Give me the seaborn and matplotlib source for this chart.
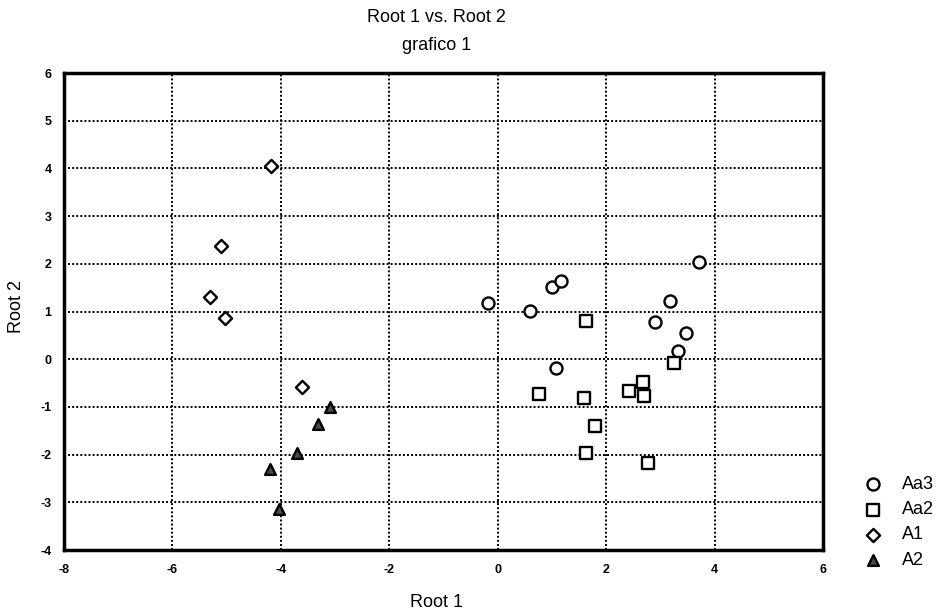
import pandas as pd
import seaborn as sns
import matplotlib.pyplot as plt

# Root scores
aa3_x = [-0.18, 0.59, 1.01, 1.16, 1.07, 3.71, 3.18, 2.91, 3.48, 3.33]
aa3_y = [1.18, 1.02, 1.52, 1.64, -0.19, 2.03, 1.23, 0.79, 0.54, 0.18]

aa2_x = [1.63, 3.26, 0.76, 1.60, 2.42, 2.68, 2.69, 1.80, 1.63, 2.78]
aa2_y = [0.80, -0.07, -0.73, -0.82, -0.66, -0.48, -0.77, -1.41, -1.97, -2.17]

a1_x = [-4.18, -5.10, -5.30, -5.03, -3.61]
a1_y = [4.05, 2.37, 1.30, 0.86, -0.58]

a2_x = [-3.10, -3.31, -3.70, -4.20, -4.04]
a2_y = [-1.01, -1.36, -1.97, -2.30, -3.13]

groups = ["Aa3", "Aa2", "A1", "A2"]
x_ticks = [-8, -6, -4, -2, 0, 2, 4, 6]
y_ticks = [-4, -3, -2, -1, 0, 1, 2, 3, 4, 5, 6]

df = pd.concat([
    pd.DataFrame({"root1": aa3_x, "root2": aa3_y, "group": "Aa3"}),
    pd.DataFrame({"root1": aa2_x, "root2": aa2_y, "group": "Aa2"}),
    pd.DataFrame({"root1": a1_x, "root2": a1_y, "group": "A1"}),
    pd.DataFrame({"root1": a2_x, "root2": a2_y, "group": "A2"}),
])

sns.set_style("white")
plt.rcParams["font.family"] = ["Liberation Sans", "DejaVu Sans"]
plt.rcParams["axes.unicode_minus"] = False
plt.rcParams["text.color"] = "black"
plt.rcParams["axes.labelcolor"] = "black"
plt.rcParams["xtick.color"] = "black"
plt.rcParams["ytick.color"] = "black"

fig = plt.figure(figsize=(9.4, 6.11), dpi=100)
ax = fig.add_axes([0.068, 0.0998, 0.8075, 0.7807])

styles = {
    "Aa3": dict(marker="o", s=75, facecolor="white"),
    "Aa2": dict(marker="s", s=72, facecolor="white"),
    "A1": dict(marker="D", s=45, facecolor="white"),
    "A2": dict(marker="^", s=60, facecolor="#4a4a4a"),
}
for g in groups:
    sub = df[df["group"] == g]
    st = styles[g]
    sns.scatterplot(data=sub, x="root1", y="root2", marker=st["marker"], s=st["s"],
                    color=st["facecolor"], edgecolor="black", linewidth=1.7,
                    label=g, ax=ax, zorder=3)

ax.set_xlim(-8, 6)
ax.set_ylim(-4, 6)
ax.set_xticks(x_ticks)
ax.set_yticks(y_ticks)
ax.grid(True, linestyle=(0, (1, 1.1)), color="black", linewidth=1.4)
ax.tick_params(length=0, labelsize=9)
ax.tick_params(axis="x", pad=10)
ax.tick_params(axis="y", pad=9)
for lab in ax.get_xticklabels() + ax.get_yticklabels():
    lab.set_fontweight("bold")
for sp in ax.spines.values():
    sp.set_linewidth(2.5)
    sp.set_color("black")

ax.set_xlabel("Root 1", fontsize=13)
ax.set_ylabel("Root 2", fontsize=13)
ax.xaxis.set_label_coords(0.491, -0.092)
ax.yaxis.set_label_coords(-0.051, 0.51)

fig.text(0.464, 0.972, "Root 1 vs. Root 2", ha="center", va="center", fontsize=13)
fig.text(0.464, 0.925, "grafico 1", ha="center", va="center", fontsize=13)

ax.get_legend().remove()
handles, labels = ax.get_legend_handles_labels()
fig.legend(handles, labels, loc="center left", bbox_to_anchor=(0.91, 0.145),
           frameon=False, fontsize=13, handletextpad=1.1, labelspacing=0.45,
           borderpad=0, handlelength=1.0)

fig.savefig("out.png", dpi=100)
